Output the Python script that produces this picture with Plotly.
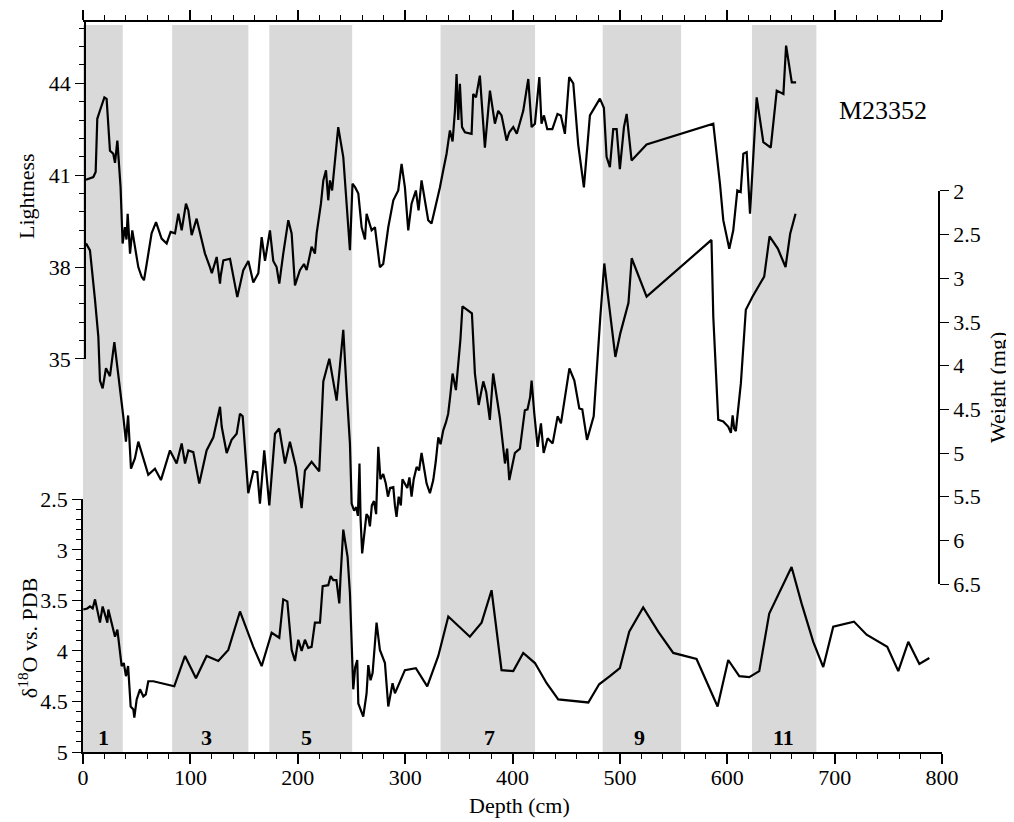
import plotly.graph_objects as go

# ---------------- data ----------------
light_depth = [2.8, 9.6, 11.8, 13.3, 15.8, 19.9, 22, 25.1, 28.2, 29.8, 32, 33.2, 35, 36.9, 39, 40.5, 41.6, 43.8,
               45.9, 48.4, 51.5, 54.6, 56.8, 59.3, 63.9, 68, 73.2, 77.9, 81.6, 85.7, 88.8, 91.9, 95.9, 98.1,
               101.2, 105.8, 108.9, 113.6, 118.2, 120, 124.5, 127.6, 128.2, 130.7, 136.9, 140, 143.7, 149.3,
               154, 158.6, 163.3, 166.4, 169.5, 174.1, 177.2, 180.3, 182.8, 186.5, 191.2, 194.3, 197.4, 202,
               205.8, 208.3, 212.9, 216, 217.6, 221.6, 223.8, 226.3, 228.4, 230, 232, 237.7, 242.4, 248.6,
               251, 253.5, 256.4, 259.5, 262.6, 264.1, 268.8, 271.9, 276.5, 279.6, 284.3, 289, 293.6, 296.7,
               299.8, 302.9, 306, 310, 312.5, 315.3, 318.4, 321.5, 324.6, 327.7, 332.4, 335.5, 338.6, 341.7,
               344.2, 346.4, 347.9, 349.5, 351, 353, 355.7, 361.9, 363.4, 366, 369.6, 374.3, 379, 383.6,
               386.7, 389.8, 394.5, 397, 400.7, 404, 406.9, 410, 414.7, 417.8, 420.9, 425, 427, 429.3,
               432.4, 437.1, 441.9, 445, 448.8, 452.8, 456.6, 461.2, 466.5, 472.1, 481.4, 485.1, 487.6,
               490.7, 493.8, 497, 500, 503.8, 506.3, 510.9, 524.9, 587, 593.2, 596.3, 601.9, 605.6, 609.4,
               612.5, 615, 618.1, 621.2, 627.4, 633.6, 640.5, 646.1, 652.3, 654.8, 657, 660.1, 664.1]
lightness = [40.85, 40.94, 41.1, 42.84, 43.11, 43.54, 43.49, 41.8, 41.7, 41.4, 42.13, 41.6, 40.6, 38.77, 39.3,
             38.9, 39.74, 38.44, 39.2, 38.66, 38.0, 37.68, 37.57, 38.1, 39.1, 39.47, 38.93, 38.77, 39.15, 39.1,
             39.74, 39.2, 40.07, 39.85, 39.04, 39.58, 39.1, 38.44, 38.0, 37.8, 38.33, 37.46, 37.7, 38.22,
             38.27, 37.67, 37.02, 37.9, 38.2, 37.5, 37.8, 38.98, 38.2, 39.2, 38.2, 38.0, 37.46, 38.44, 39.53,
             39.1, 37.4, 37.9, 38.1, 37.9, 38.66, 38.44, 39.1, 40.07, 40.83, 41.16, 40.18, 40.83, 40.5, 42.57,
             41.59, 38.55, 40.72, 40.6, 40.4, 39.3, 38.9, 39.74, 39.2, 39.3, 38.0, 38.1, 39.3, 40.18, 40.5,
             41.37, 40.6, 39.2, 40.07, 40.5, 39.85, 40.83, 40.18, 39.53, 39.42, 39.85, 40.6, 41.16, 41.7,
             42.46, 42.1, 43.1, 44.3, 42.8, 43.98, 42.57, 42.4, 42.35, 43.65, 43.54, 44.25, 41.9, 43.76,
             42.68, 43.1, 42.95, 42.13, 42.4, 42.57, 42.35, 42.68, 43.1, 44.14, 42.57, 42.68, 44.2, 42.68,
             42.95, 42.5, 42.5, 43.0, 42.95, 42.35, 44.2, 44.0, 42.0, 40.6, 42.95, 43.5, 43.2, 41.6, 41.26,
             42.5, 42.5, 41.2, 42.57, 43.0, 41.48, 42.0, 42.68, 40.72, 39.53, 38.6, 39.2, 40.5, 40.45, 41.7,
             41.75, 39.74, 43.54, 42.08, 41.9, 43.76, 43.65, 45.23, 44.74, 44.03, 44.03]

weight_depth = [2.8, 6.5, 11.2, 14.3, 15.8, 18.3, 21.4, 25.1, 29.2, 32.9, 37.6, 40, 42, 44.7, 48.4, 51.5, 54.6,
                57.7, 60.8, 67, 72.6, 81, 84, 87.2, 91.9, 95, 98.1, 102.7, 108.3, 115.1, 121.4, 127.6, 129.2,
                133.8, 138.4, 143.1, 146.2, 148.7, 153.9, 158.6, 162.3, 164.8, 168.8, 173.5, 178.8, 182.8,
                188.1, 192.7, 198.3, 203.6, 206.7, 212.9, 220, 223.8, 229.4, 236.2, 239.3, 242.4, 245.5,
                248.6, 250.2, 252.5, 254.5, 256, 257.5, 258.5, 260, 262, 264, 265.7, 267.2, 269, 271, 273,
                275, 277, 279.6, 282, 284, 286, 289, 290.5, 292, 294, 296, 297.5, 299.8, 302, 304, 306, 308,
                310.7, 313, 315.3, 318, 320, 323.1, 326.2, 328.5, 330.9, 333, 335.5, 338, 340.1, 342, 344.2,
                347.3, 349.5, 351.5, 353.4, 358, 362.2, 365, 368.5, 372.8, 375.5, 378.9, 382, 388.3, 393,
                395, 397, 402.2, 406.9, 411.5, 414, 416.4, 417.8, 420.3, 423.4, 426.5, 429, 432.7, 437.4,
                442, 445.1, 453, 457.6, 462.2, 465, 469.4, 475.6, 481.8, 485.5, 488.6, 495.8, 500.4, 506,
                508, 511, 524.9, 585.3, 587, 591.6, 596.3, 601, 603.4, 605, 606.5, 608, 612.7, 617.3, 623.5,
                634.4, 639.4, 647.1, 654.3, 658.6, 663.6]
weight = [2.6, 2.68, 3.25, 3.67, 4.17, 4.26, 4.03, 4.12, 3.73, 4.09, 4.59, 4.87, 4.57, 5.18, 5.06, 4.87, 5.0,
          5.12, 5.25, 5.18, 5.31, 4.97, 5.05, 5.12, 4.89, 5.12, 4.97, 4.99, 5.35, 4.97, 4.82, 4.47, 4.7, 5.0,
          4.85, 4.78, 4.55, 4.58, 5.46, 5.21, 5.22, 5.58, 4.97, 5.6, 4.78, 4.72, 5.12, 4.87, 5.16, 5.63, 5.2,
          5.1, 5.21, 4.18, 3.92, 4.4, 4.0, 3.59, 4.28, 4.89, 5.58, 5.66, 5.62, 5.72, 5.12, 5.75, 6.15, 5.95,
          5.7, 5.73, 5.84, 5.6, 5.55, 5.7, 4.93, 5.3, 5.24, 5.35, 5.5, 5.4, 5.39, 5.6, 5.73, 5.5, 5.6, 5.3,
          5.35, 5.4, 5.28, 5.5, 5.3, 5.16, 5.2, 5.0, 5.2, 5.35, 5.46, 5.31, 5.1, 4.82, 4.9, 4.74, 4.65, 4.55,
          4.35, 4.09, 4.28, 4.0, 3.7, 3.32, 3.36, 3.4, 4.09, 4.45, 4.18, 4.3, 4.62, 4.09, 4.6, 5.12, 4.95,
          5.31, 5.0, 4.95, 4.51, 4.5, 4.36, 4.17, 4.55, 4.93, 4.66, 5.0, 4.83, 4.89, 4.58, 4.66, 4.03, 4.17,
          4.49, 4.5, 4.85, 4.58, 3.44, 2.83, 3.17, 3.9, 3.63, 3.35, 3.28, 2.77, 3.21, 2.56, 3.44, 4.62, 4.64,
          4.7, 4.77, 4.57, 4.72, 4.75, 4.2, 3.36, 3.21, 2.98, 2.52, 2.66, 2.87, 2.49, 2.26]

d18o_depth = [0.3, 4, 6.5, 9, 11.2, 13.3, 15.8, 18.3, 20.8, 22.7, 23.6, 26.7, 29.8, 32, 33.8, 36, 38, 40, 42,
              44.4, 46.9, 47.8, 50, 53.1, 56.2, 58.5, 60.8, 65.5, 85, 95, 105.2, 115.1, 126, 135.3, 146.2,
              158.6, 166.4, 175.7, 182.8, 186.5, 190.3, 194.3, 197.4, 200.5, 203.6, 206.7, 209.8, 212.9, 216,
              220.7, 223.2, 228.4, 230.6, 233.1, 236, 238.7, 239.9, 242.4, 244.9, 246.4, 248.6, 250.2, 251.7,
              253.5, 255.4, 256.4, 259.5, 261, 264.1, 265.7, 267.8, 269.7, 273.4, 276.5, 281.2, 284.3, 288.3,
              290.5, 299.8, 310, 320.6, 330.9, 340.2, 360.3, 371.2, 380.5, 389.8, 400.7, 410, 420.9, 431.8,
              442.6, 470.6, 480.7, 490.7, 500, 508.7, 521.7, 535.7, 549.7, 571.4, 591, 600.9, 611.2, 620.5,
              629.8, 639.1, 659.9, 669.2, 680.1, 689.4, 698.7, 718, 729.8, 749, 759.3, 768.6, 778.9, 788.2]
d18o = [3.59, 3.58, 3.56, 3.58, 3.49, 3.61, 3.72, 3.56, 3.66, 3.72, 3.59, 3.72, 3.86, 3.79, 3.96, 4.15, 4.12,
        4.25, 4.15, 4.55, 4.58, 4.66, 4.48, 4.38, 4.45, 4.43, 4.3, 4.3, 4.35, 4.05, 4.27, 4.05, 4.1, 3.99,
        3.61, 3.96, 4.15, 3.82, 3.87, 3.49, 3.51, 3.99, 4.1, 3.89, 4.0, 3.89, 3.97, 3.96, 3.72, 3.72, 3.36,
        3.35, 3.26, 3.3, 3.3, 3.53, 3.26, 2.8, 2.97, 3.07, 3.43, 4.05, 4.38, 4.16, 4.09, 4.52, 4.61, 4.65,
        4.42, 4.14, 4.29, 4.22, 3.72, 3.99, 4.12, 4.55, 4.32, 4.42, 4.19, 4.17, 4.35, 4.05, 3.66, 3.86, 3.72,
        3.4, 4.19, 4.2, 4.02, 4.12, 4.32, 4.48, 4.51, 4.33, 4.25, 4.17, 3.81, 3.57, 3.81, 4.02, 4.08, 4.55,
        4.09, 4.25, 4.26, 4.2, 3.63, 3.17, 3.53, 3.91, 4.16, 3.76, 3.71, 3.84, 3.96, 4.2, 3.91, 4.13, 4.07]

stage_labels = ["1", "3", "5", "7", "9", "11"]
stage_start = [0, 83, 173.5, 333, 484, 623]
stage_end = [37, 154, 250.7, 421, 557, 683]
stage_label_x = [19, 115, 208, 379, 518, 652]

# ---------------- figure ----------------
FONT = "Liberation Serif"
fig = go.Figure()

line = dict(color="black", width=2.2)
# lightness drawn against the top depth axis (same scale as the bottom one)
fig.add_trace(go.Scatter(x=light_depth, y=lightness, mode="lines", line=line, xaxis="x2", yaxis="y",
                         showlegend=False, hoverinfo="skip"))
fig.add_trace(go.Scatter(x=weight_depth, y=weight, mode="lines", line=line, xaxis="x", yaxis="y2",
                         showlegend=False, hoverinfo="skip"))
fig.add_trace(go.Scatter(x=d18o_depth, y=d18o, mode="lines", line=line, xaxis="x", yaxis="y3",
                         showlegend=False, hoverinfo="skip"))

shapes = []
for s0, s1 in zip(stage_start, stage_end):
    shapes.append(dict(type="rect", xref="x", yref="paper", x0=s0, x1=s1, y0=0, y1=0.996,
                       fillcolor="#d9d9d9", line=dict(width=0), layer="below"))

annotations = []
for lab, xx in zip(stage_labels, stage_label_x):
    annotations.append(dict(x=xx, y=4.86, xref="x", yref="y3", text="<b>%s</b>" % lab, showarrow=False,
                            font=dict(family=FONT, size=22, color="black"), xanchor="center", yanchor="middle"))
annotations.append(dict(x=745, y=43.1, xref="x", yref="y", text="M23352", showarrow=False,
                        font=dict(family=FONT, size=26, color="black"), xanchor="center", yanchor="middle"))
annotations.append(dict(x=-0.0664, y=0.7616, xref="paper", yref="paper", text="Lightness", showarrow=False,
                        textangle=-90, font=dict(family=FONT, size=22, color="black"),
                        xanchor="center", yanchor="middle"))
annotations.append(dict(x=-0.0640, y=0.156, xref="paper", yref="paper", text="δ<sup>18</sup>O vs. PDB",
                        showarrow=False, textangle=-90, font=dict(family=FONT, size=22, color="black"),
                        xanchor="center", yanchor="middle"))
annotations.append(dict(x=1.0640, y=0.50, xref="paper", yref="paper", text="Weight (mg)", showarrow=False,
                        textangle=-90, font=dict(family=FONT, size=22, color="black"),
                        xanchor="center", yanchor="middle"))
annotations.append(dict(x=0.5076, y=-0.0735, xref="paper", yref="paper", text="Depth (cm)", showarrow=False,
                        font=dict(family=FONT, size=22, color="black"), xanchor="center", yanchor="middle"))

tickfont = dict(family=FONT, size=22, color="black")

fig.update_layout(
    width=1006, height=814,
    margin=dict(l=75, r=72, t=14, b=70, autoexpand=False),
    paper_bgcolor="white", plot_bgcolor="rgba(0,0,0,0)",
    shapes=shapes, annotations=annotations, showlegend=False,
    xaxis=dict(domain=[0, 1], range=[0, 800], anchor="y3", showgrid=False, zeroline=False, automargin=False,
               showline=True, linewidth=2, linecolor="black", ticks="outside", ticklen=10, tickwidth=1.5,
               tickcolor="black", dtick=100, tick0=0, tickfont=tickfont, ticklabelstandoff=-5,
               minor=dict(dtick=20, tick0=0, ticks="outside", ticklen=5, tickwidth=1, tickcolor="black",
                          showgrid=False)),
    xaxis2=dict(overlaying="x", matches="x", side="top", anchor="y", range=[0, 800], showgrid=False,
                automargin=False,
                zeroline=False, showline=True, linewidth=2, linecolor="black", ticks="outside", ticklen=10,
                tickwidth=1.5, tickcolor="black", dtick=100, tick0=0, showticklabels=False,
                minor=dict(dtick=20, tick0=0, ticks="outside", ticklen=5, tickwidth=1, tickcolor="black",
                           showgrid=False)),
    yaxis=dict(domain=[0.5384, 1.0], range=[35, 46], anchor="free", position=0.0023, side="left",
               showgrid=False, zeroline=False, showline=True, linewidth=1.5, linecolor="black",
               automargin=False,
               ticks="outside", ticklen=9, tickwidth=1.2, tickcolor="black",
               tickvals=[35, 38, 41, 44], tickfont=tickfont,
               minor=dict(dtick=0.6, tick0=35, ticks="outside", ticklen=5, tickwidth=1, tickcolor="black",
                          showgrid=False)),
    yaxis2=dict(domain=[0.2301, 0.7685], range=[6.5, 2], anchor="free", position=0.9965, side="right",
                showgrid=False, zeroline=False, showline=True, linewidth=1.5, automargin=False,
                linecolor="black", ticks="outside", ticklen=9, tickwidth=1.2, tickcolor="black",
                dtick=0.5, tick0=2, tickfont=tickfont),
    yaxis3=dict(domain=[0, 0.3462], range=[5, 2.5], anchor="x", side="left",
                showgrid=False, zeroline=False, showline=True, linewidth=1.5, automargin=False,
                linecolor="black", ticks="outside", ticklen=9, tickwidth=1.2, tickcolor="black",
                dtick=0.5, tick0=2.5, tickfont=tickfont,
                minor=dict(dtick=0.1, tick0=2.5, ticks="outside", ticklen=5, tickwidth=1, tickcolor="black",
                           showgrid=False)),
)

fig.write_html("out.html")
